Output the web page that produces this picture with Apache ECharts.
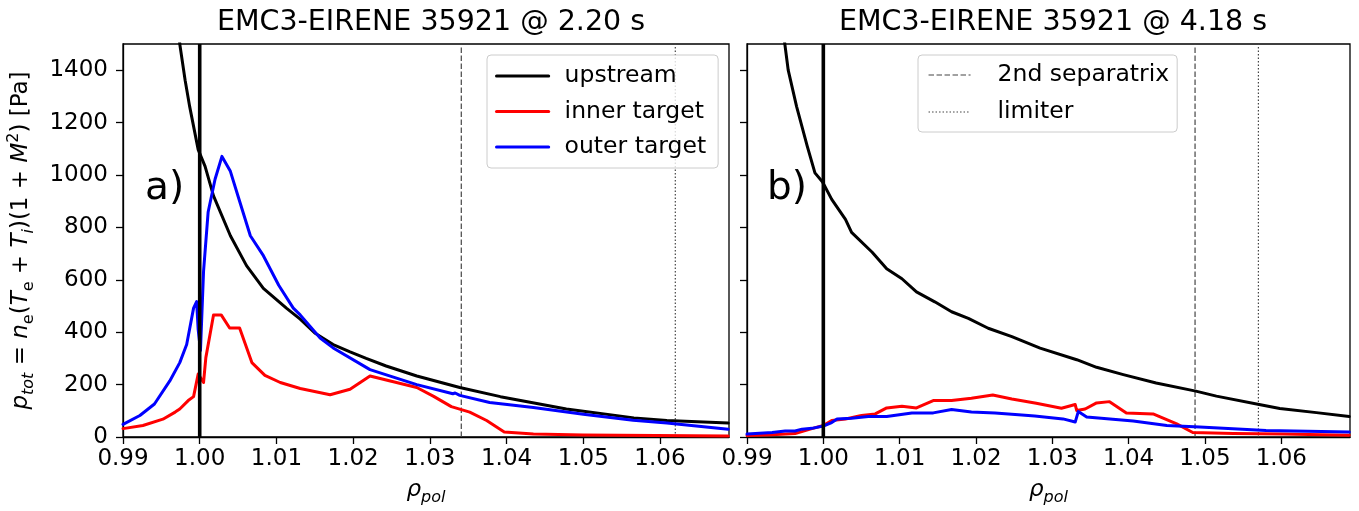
<!DOCTYPE html>
<html><head><meta charset="utf-8">
<script src="https://cdn.jsdelivr.net/npm/echarts@6/dist/echarts.min.js"></script>
<style>html,body{margin:0;padding:0;background:#fff}#c{width:1359px;height:511px}</style>
</head><body><div id="c"></div>
<script>
// ---- text ----
const panelTitles = ['EMC3-EIRENE 35921 @ 2.20 s', 'EMC3-EIRENE 35921 @ 4.18 s'];
const panelTags = ['a)', 'b)'];
const seriesNames = ['upstream', 'inner target', 'outer target'];
const lineNames = ['2nd separatrix', 'limiter'];
// ---- ticks ----
const xTicks = [0.99, 1.00, 1.01, 1.02, 1.03, 1.04, 1.05, 1.06];
const yTicks = [0, 200, 400, 600, 800, 1000, 1200, 1400];
const xRange = [0.99, 1.069];
const yRange = [0, 1500];
// ---- panel a) 2.20 s ----
const upstreamA = [[0.9970,1650],[0.9974,1500],[0.9981,1362],[0.9987,1260],[0.9998,1097],[1.0007,1033],[1.0018,920],[1.0040,768],[1.0061,654],[1.0083,567],[1.0113,492],[1.0131,450],[1.0150,397],[1.0174,353],[1.0196,325],[1.0217,300],[1.0243,271],[1.0283,233],[1.0339,189],[1.0392,154],[1.0478,107],[1.0566,73],[1.0609,63],[1.0689,53]];
const innerA = [[0.9900,32],[0.9926,44],[0.9952,68],[0.9968,95],[0.9974,107],[0.9985,139],[0.9992,154],[0.9998,240],[1.0005,208],[1.0008,303],[1.0018,466],[1.0028,466],[1.0039,416],[1.0052,416],[1.0068,284],[1.0085,235],[1.0105,208],[1.0131,185],[1.0170,161],[1.0196,182],[1.0222,233],[1.0283,189],[1.0305,155],[1.0328,116],[1.0352,95],[1.0374,63],[1.0397,19],[1.0435,11],[1.0500,8],[1.0689,4]];
const outerA = [[0.9900,48],[0.9922,82],[0.9941,126],[0.9961,214],[0.9974,284],[0.9983,353],[0.9992,492],[0.9996,517],[0.9998,410],[1.0001,330],[1.0005,632],[1.0011,859],[1.0020,984],[1.0029,1071],[1.0040,1014],[1.0050,919],[1.0066,768],[1.0083,692],[1.0103,579],[1.0122,492],[1.0131,466],[1.0157,378],[1.0174,340],[1.0222,257],[1.0283,200],[1.0330,165],[1.0333,168],[1.0339,159],[1.0378,132],[1.0435,113],[1.0500,87],[1.0565,64],[1.0609,53],[1.0689,30]];
const separatrixA = 1.0;
const sep2A = 1.0341;
const limiterA = 1.062;
// ---- panel b) 4.18 s ----
const upstreamB = [[0.9946,1580],[0.9954,1400],[0.9965,1261],[0.9979,1109],[0.9989,1008],[0.9999,973],[1.0011,907],[1.0020,869],[1.0029,831],[1.0037,781],[1.0064,705],[1.0083,642],[1.0103,604],[1.0122,554],[1.0146,516],[1.0168,478],[1.0190,453],[1.0216,415],[1.0247,383],[1.0284,339],[1.0332,295],[1.0358,266],[1.0393,238],[1.0436,206],[1.0488,175],[1.0515,156],[1.0571,124],[1.0598,109],[1.0646,93],[1.0689,78]];
const innerB = [[0.9900,6],[0.9933,9],[0.9963,13],[0.9985,32],[1.0000,44],[1.0011,63],[1.0029,69],[1.0050,82],[1.0068,88],[1.0083,111],[1.0103,117],[1.0122,111],[1.0144,139],[1.0168,139],[1.0194,148],[1.0222,160],[1.0247,145],[1.0279,129],[1.0312,110],[1.0330,124],[1.0332,101],[1.0343,107],[1.0358,130],[1.0375,135],[1.0397,92],[1.0432,88],[1.0463,50],[1.0484,17],[1.0537,13],[1.0602,11],[1.0689,7]];
const outerB = [[0.9900,11],[0.9933,17],[0.9950,23],[0.9963,23],[0.9972,30],[0.9985,33],[1.0000,42],[1.0011,55],[1.0018,69],[1.0037,72],[1.0059,78],[1.0083,78],[1.0116,92],[1.0144,92],[1.0168,105],[1.0194,95],[1.0225,92],[1.0260,84],[1.0277,80],[1.0314,69],[1.0330,57],[1.0334,97],[1.0345,76],[1.0406,61],[1.0450,44],[1.0493,38],[1.0580,25],[1.0689,19]];
const separatrixB = 1.0;
const sep2B = 1.0487;
const limiterB = 1.057;

const FONT = 'DejaVu Sans';
const chart = echarts.init(document.getElementById('c'), null, {renderer: 'canvas'});

function curve(name, data, color, gi) {
  return {type: 'line', name: name, xAxisIndex: gi, yAxisIndex: gi, data: data,
    symbol: 'none', showSymbol: false, clip: true, silent: true,
    lineStyle: {color: color, width: 3, join: 'round', cap: 'round'}, itemStyle: {color: color}};
}
function vline(name, x, gi, type, width, color) {
  return {type: 'line', name: name, xAxisIndex: gi, yAxisIndex: gi,
    data: [[x, yRange[0]], [x, yRange[1]]], symbol: 'none', silent: true,
    lineStyle: {color: color, width: width, type: type}, itemStyle: {color: color}};
}
const dashType = [5.5, 2.5];
const dotType = [1.5, 2];
const grey = '#444';

const rich = {
  i: {fontFamily: FONT, fontSize: 23, fontStyle: 'italic', lineHeight: 31, color: '#000'},
  n: {fontFamily: FONT, fontSize: 23, lineHeight: 31, color: '#000'},
  sub: {fontFamily: FONT, fontSize: 16, fontStyle: 'italic', lineHeight: 16, verticalAlign: 'bottom', color: '#000'},
  subr: {fontFamily: FONT, fontSize: 16, lineHeight: 16, verticalAlign: 'bottom', color: '#000'},
  sup: {fontFamily: FONT, fontSize: 16, lineHeight: 16, verticalAlign: 'top', color: '#000'}
};

function xAxis(gi) {
  return {type: 'value', gridIndex: gi, min: xRange[0], max: xRange[1],
    axisLine: {show: true, onZero: false, lineStyle: {color: '#000', width: 1.3}},
    axisTick: {show: true, length: 7, customValues: xTicks, lineStyle: {color: '#000', width: 1.3}},
    axisLabel: {customValues: xTicks, formatter: v => v.toFixed(2), fontFamily: FONT, fontSize: 23, color: '#000', margin: 11},
    splitLine: {show: false},
    name: '{i|ρ}{sub|pol}', nameLocation: 'middle', nameGap: 38,
    nameTextStyle: {rich: rich}};
}
function yAxis(gi) {
  const ax = {type: 'value', gridIndex: gi, min: yRange[0], max: yRange[1],
    axisLine: {show: true, onZero: false, lineStyle: {color: '#000', width: 1.3}},
    axisTick: {show: true, length: 7, customValues: yTicks, lineStyle: {color: '#000', width: 1.3}},
    axisLabel: {show: gi === 0, customValues: yTicks, formatter: v => String(v), fontFamily: FONT, fontSize: 23, color: '#000', margin: 15},
    splitLine: {show: false}};
  if (gi === 0) {
    ax.name = '{i|p}{sub|tot}{n| = }{i|n}{subr|e}{n|(}{i|T}{subr|e}{n| + }{i|T}{sub|i}{n|)(1 + }{i|M}{sup|2}{n|) [Pa]}';
    ax.nameLocation = 'middle';
    ax.nameGap = 86;
    ax.nameTextStyle = {rich: rich};
  }
  return ax;
}

const legendBase = {orient: 'vertical', top: 55, itemHeight: 14, borderColor: '#ccc', borderWidth: 1, borderRadius: 4,
  backgroundColor: 'rgba(255,255,255,0.8)', selectedMode: false, itemStyle: {opacity: 0}};

const option = {
  animation: false,
  backgroundColor: '#fff',
  title: [
    {text: panelTitles[0], left: 426, top: 3, textAlign: 'center', textStyle: {fontFamily: FONT, fontSize: 28.5, fontWeight: 'normal', color: '#000'}},
    {text: panelTitles[1], left: 1048, top: 3, textAlign: 'center', textStyle: {fontFamily: FONT, fontSize: 28.5, fontWeight: 'normal', color: '#000'}}
  ],
  grid: [
    {left: 123, right: 630, top: 44, bottom: 71, show: true, borderColor: '#000', borderWidth: 1.3, backgroundColor: '#fff'},
    {left: 747, right: 9, top: 44, bottom: 71, show: true, borderColor: '#000', borderWidth: 1.3, backgroundColor: '#fff'}
  ],
  legend: [
    Object.assign({}, legendBase, {data: seriesNames, left: 487, itemWidth: 52, itemGap: 11.5, padding: [9, 12, 9, 8],
      lineStyle: {width: 3.2},
      textStyle: {fontFamily: FONT, fontSize: 23.5, color: '#000', padding: [0, 0, 0, 11]}}),
    Object.assign({}, legendBase, {data: lineNames, left: 918, itemWidth: 42, itemGap: 13, padding: [8, 8, 8, 10],
      lineStyle: {width: 1.1},
      textStyle: {fontFamily: FONT, fontSize: 23.5, color: '#000', padding: [0, 0, 0, 22]}})
  ],
  xAxis: [xAxis(0), xAxis(1)],
  yAxis: [yAxis(0), yAxis(1)],
  graphic: [
    {type: 'text', left: 145, top: 169, style: {text: panelTags[0], fontFamily: FONT, fontSize: 39, fill: '#000'}},
    {type: 'text', left: 767, top: 169, style: {text: panelTags[1], fontFamily: FONT, fontSize: 39, fill: '#000'}}
  ],
  series: [
    vline(lineNames[0], sep2A, 0, dashType, 1.2, grey),
    vline(lineNames[1], limiterA, 0, dotType, 1.2, grey),
    curve(seriesNames[0], upstreamA, '#000000', 0),
    curve(seriesNames[1], innerA, '#ff0000', 0),
    curve(seriesNames[2], outerA, '#0000ff', 0),
    vline('separatrix', separatrixA, 0, 'solid', 3.6, '#000'),
    vline(lineNames[0], sep2B, 1, dashType, 1.2, grey),
    vline(lineNames[1], limiterB, 1, dotType, 1.2, grey),
    curve(seriesNames[0], upstreamB, '#000000', 1),
    curve(seriesNames[1], innerB, '#ff0000', 1),
    curve(seriesNames[2], outerB, '#0000ff', 1),
    vline('separatrix', separatrixB, 1, 'solid', 3.6, '#000')
  ]
};
chart.setOption(option);
</script></body></html>
